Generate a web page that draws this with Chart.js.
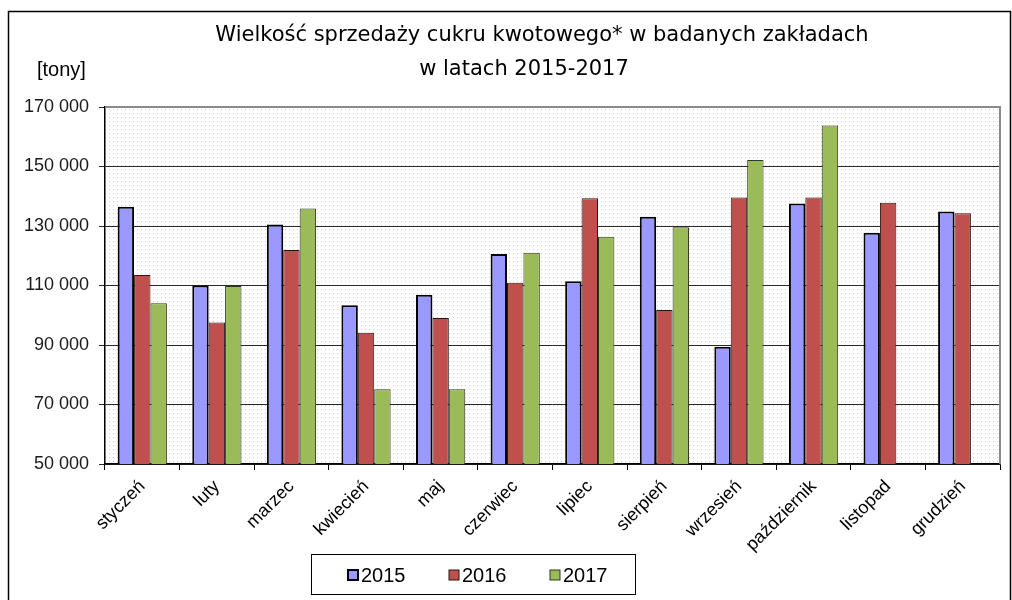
<!DOCTYPE html>
<html>
<head>
<meta charset="utf-8">
<script src="https://cdn.jsdelivr.net/npm/chart.js@4/dist/chart.umd.min.js"></script>
<style>
  html, body { margin: 0; padding: 0; background: #fff; }
  #wrap { width: 1012px; height: 600px; }
</style>
</head>
<body>
<div id="wrap"><canvas id="salesChart" width="1012" height="600"></canvas></div>
<script>
// miesiące
var months = ['styczeń', 'luty', 'marzec', 'kwiecień', 'maj', 'czerwiec',
	'lipiec', 'sierpień', 'wrzesień', 'październik', 'listopad', 'grudzień'];
var years = ['2015', '2016', '2017'];

// sprzedaż cukru [tony]
var sales2015 = [136500, 110000, 130500, 103400, 106900, 120600, 111400, 133100, 89400, 137600, 127700, 134900];
var sales2016 = [113500, 97600, 121900, 94100, 99100, 110900, 139300, 101800, 139600, 139600, 137800, 134300];
var sales2017 = [104000, 109800, 135900, 75100, 75100, 121000, 126400, 129600, 152200, 163800, null, null];

var yMin = 50000;
var yMax = 170000;
var yStep = 20000;

var titleLines = ['Wielkość sprzedaży cukru kwotowego* w badanych zakładach', 'w latach 2015-2017'];
var unitLabel = '[tony]';

function formatThousands(v) {
	var s = String(Math.round(v));
	return s.replace(/\B(?=(\d{3})+(?!\d))/g, ' ');
}

// kropkowane tło
function makeDotPattern(ctx) {
	var tile = document.createElement('canvas');
	tile.width = 4;
	tile.height = 4;
	var t = tile.getContext('2d');
	t.fillStyle = '#ffffff';
	t.fillRect(0, 0, 4, 4);
	t.fillStyle = '#cfcfcf';
	t.fillRect(1, 1, 1, 1);
	return ctx.createPattern(tile, 'repeat');
}

var backgroundPlugin = {
	id: 'plotBackground',
	beforeDraw: function(chart) {
		var ctx = chart.ctx;
		var a = chart.chartArea;
		ctx.save();
		ctx.fillStyle = '#ffffff';
		ctx.fillRect(0, 0, chart.width, chart.height);
		ctx.fillStyle = makeDotPattern(ctx);
		ctx.fillRect(a.left, a.top, a.right - a.left, a.bottom - a.top);
		ctx.restore();
	},
	afterDatasetsDraw: function(chart) {
		var ctx = chart.ctx;
		var a = chart.chartArea;
		ctx.save();
		ctx.strokeStyle = '#8a8a8a';
		ctx.lineWidth = 2;
		ctx.beginPath();
		ctx.moveTo(a.left, a.top);
		ctx.lineTo(a.right, a.top);
		ctx.lineTo(a.right, a.bottom);
		ctx.stroke();
		ctx.restore();
	},
	afterDraw: function(chart) {
		var ctx = chart.ctx;
		ctx.save();
		// ramka wykresu
		ctx.strokeStyle = '#000';
		ctx.lineWidth = 1.5;
		ctx.strokeRect(8.5, 11.5, 1002, 620);

		// tytuł
		ctx.fillStyle = '#000';
		ctx.textBaseline = 'middle';
		ctx.textAlign = 'center';
		ctx.font = '21px "Comic Sans MS", "DejaVu Sans", sans-serif';
		ctx.fillText(titleLines[0], 542, 36);
		ctx.fillText(titleLines[1], 524, 70);

		ctx.textAlign = 'left';
		ctx.font = '20px "Liberation Sans", Arial, sans-serif';
		ctx.fillText(unitLabel, 37, 70);

		// legenda
		ctx.strokeStyle = '#000';
		ctx.lineWidth = 1;
		ctx.strokeRect(311.5, 554.5, 324, 40);
		ctx.font = '20px "Liberation Sans", Arial, sans-serif';
		var x = 348;
		chart.data.datasets.forEach(function(ds) {
			ctx.fillStyle = ds.backgroundColor;
			ctx.fillRect(x, 570, 10, 10);
			ctx.strokeStyle = ds.borderColor;
			ctx.lineWidth = ds.borderWidth;
			ctx.strokeRect(x, 570, 10, 10);
			ctx.fillStyle = '#000';
			ctx.fillText(ds.label, x + 13, 576);
			x += 101;
		});
		ctx.restore();
	}
};

var ctx = document.getElementById('salesChart');
var salesChart = new Chart(ctx, {
	type: 'bar',
	data: {
		labels: months,
		datasets: [{
			label: years[0],
			data: sales2015,
			backgroundColor: '#9999FF',
			borderColor: '#000000',
			borderWidth: 2
		},
		{
			label: years[1],
			data: sales2016,
			backgroundColor: '#C0504D',
			borderColor: '#2a1515',
			borderWidth: 1
		},
		{
			label: years[2],
			data: sales2017,
			backgroundColor: '#9BBB59',
			borderColor: '#2f3a20',
			borderWidth: 1
		}]
	},
	options: {
		responsive: false,
		animation: false,
		devicePixelRatio: 1,
		layout: {
			padding: { top: 107, right: 12, left: 0, bottom: 0 }
		},
		datasets: {
			bar: {
				categoryPercentage: 0.66,
				barPercentage: 1.0,
				borderSkipped: 'start'
			}
		},
		plugins: {
			legend: { display: false },
			title: { display: false },
			tooltip: { enabled: false }
		},
		scales: {
			x: {
				offset: true,
				grid: {
					offset: true,
					drawOnChartArea: false,
					drawTicks: true,
					tickLength: 6,
					color: '#000'
				},
				border: { color: '#000', width: 1.5 },
				ticks: {
					minRotation: 45,
					maxRotation: 45,
					autoSkip: false,
					padding: 6,
					color: '#000',
					font: { family: '"Liberation Sans", Arial, sans-serif', size: 18 }
				},
				afterFit: function(scale) { scale.height = 136; }
			},
			y: {
				min: yMin,
				max: yMax,
				grid: {
					color: '#2a2a2a',
					lineWidth: 1,
					drawTicks: true,
					tickLength: 6
				},
				border: { color: '#000', width: 1.5 },
				ticks: {
					stepSize: yStep,
					padding: 10,
					color: '#1a1a1a',
					font: { family: '"Liberation Sans", Arial, sans-serif', size: 18 },
					callback: function(v) { return formatThousands(v); }
				},
				afterFit: function(scale) { scale.width = 105; }
			}
		}
	},
	plugins: [backgroundPlugin]
});
</script>
</body>
</html>
